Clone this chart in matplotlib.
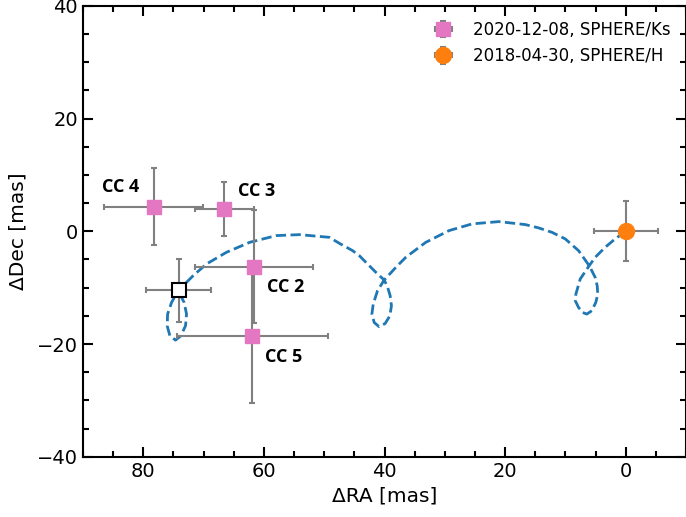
import matplotlib
matplotlib.use('Agg')
import matplotlib.pyplot as plt
from matplotlib.ticker import MultipleLocator

# background-star track (dRA, dDec) in mas
track_ra = [0.0, 1.75, 3.41, 5.06, 6.05, 7.54, 8.26, 8.36, 7.82, 7.16, 6.45, 5.62, 4.96,
            4.63, 4.73, 5.06, 6.05, 7.82, 10.02, 12.23, 14.43, 16.63, 21.04, 25.45, 29.31,
            33.16, 36.46, 38.12, 40.05, 41.16, 41.87, 42.09, 41.71, 40.88, 39.89, 39.11,
            38.85, 39.06, 39.51, 40.05, 41.42, 42.81, 44.18, 45.29, 47.49, 49.14, 54.10,
            57.95, 62.37, 66.22, 69.52, 71.74, 74.22, 75.31, 75.97, 76.04, 75.59, 74.65,
            73.77, 73.00, 72.83, 73.23, 73.66]
track_dec = [0.0, -1.35, -2.84, -4.62, -6.10, -8.46, -11.13, -12.32, -13.51, -14.40, -14.69,
             -14.10, -12.62, -11.13, -9.65, -8.18, -6.10, -3.43, -1.35, -0.18, 0.60, 1.19,
             1.72, 1.32, 0.12, -1.96, -4.60, -6.40, -8.64, -10.54, -12.91, -14.69, -16.18,
             -16.94, -16.36, -14.99, -13.21, -11.43, -9.83, -8.64, -7.29, -5.80, -4.32,
             -3.43, -2.13, -1.07, -0.59, -0.76, -1.96, -3.73, -5.80, -7.88, -10.54, -12.62,
             -14.69, -16.77, -18.54, -19.31, -18.54, -16.77, -14.69, -12.62, -11.73]

# 2020-12-08 SPHERE/Ks candidates
cc_names = ['CC 2', 'CC 3', 'CC 4', 'CC 5']
cc_ra = [61.7, 66.6, 78.3, 61.9]
cc_dec = [-6.3, 3.9, 4.4, -18.5]
cc_ra_err = [9.8, 4.9, 8.2, 12.5]
cc_dec_err = [10.0, 4.8, 6.8, 12.0]
cc_label_ra = [56.4, 61.2, 83.8, 56.7]
cc_label_dec = [-9.8, 7.2, 7.9, -22.3]

# 2018-04-30 SPHERE/H reference
ref_ra, ref_dec = 0.0, 0.0
ref_ra_err, ref_dec_err = 5.3, 5.3

# predicted background position at 2020-12-08
pred_ra, pred_dec = 74.1, -10.5
pred_ra_err, pred_dec_err = 5.4, 5.6

fig = plt.figure(figsize=(6.86, 5.17), dpi=100)
ax = fig.add_axes([0.121, 0.1166, 0.879, 0.872])

ax.plot(track_ra, track_dec, '--', color='tab:blue', lw=2, zorder=1)

ax.errorbar(cc_ra, cc_dec, xerr=cc_ra_err, yerr=cc_dec_err, fmt='s', color='tab:pink',
            ms=10, ecolor='gray', elinewidth=1.5, capsize=2, capthick=1.5,
            label='2020-12-08, SPHERE/Ks', zorder=3)
ax.errorbar(ref_ra, ref_dec, xerr=ref_ra_err, yerr=ref_dec_err, fmt='o', color='tab:orange',
            ms=11.5, ecolor='gray', elinewidth=1.5, capsize=2, capthick=1.5,
            label='2018-04-30, SPHERE/H', zorder=3)
ax.errorbar(pred_ra, pred_dec, xerr=pred_ra_err, yerr=pred_dec_err, fmt='s', mfc='white',
            mec='black', mew=1.5, ms=10, ecolor='gray', elinewidth=1.5, capsize=2,
            capthick=1.5, zorder=3)

for name, x, y in zip(cc_names, cc_label_ra, cc_label_dec):
    ax.text(x, y, name, ha='center', va='center', fontsize=13, fontweight='bold',
            family='Open Sans')

ax.set_xlim(90, -10)
ax.set_ylim(-40, 40)
ax.xaxis.set_major_locator(MultipleLocator(20))
ax.xaxis.set_minor_locator(MultipleLocator(5))
ax.yaxis.set_major_locator(MultipleLocator(20))
ax.yaxis.set_minor_locator(MultipleLocator(5))
ax.tick_params(which='both', direction='in', top=True, right=True, labelsize=14, width=1.5)
ax.tick_params(which='major', length=7.5)
ax.tick_params(which='minor', length=4)
for s in ax.spines.values():
    s.set_linewidth(1.5)

ax.set_xlabel('ΔRA [mas]', fontsize=14.5, labelpad=4)
ax.set_ylabel('ΔDec [mas]', fontsize=14.5, labelpad=7)

ax.legend(loc='upper right', frameon=False, fontsize=12)

fig.savefig('out.png', dpi=100)
